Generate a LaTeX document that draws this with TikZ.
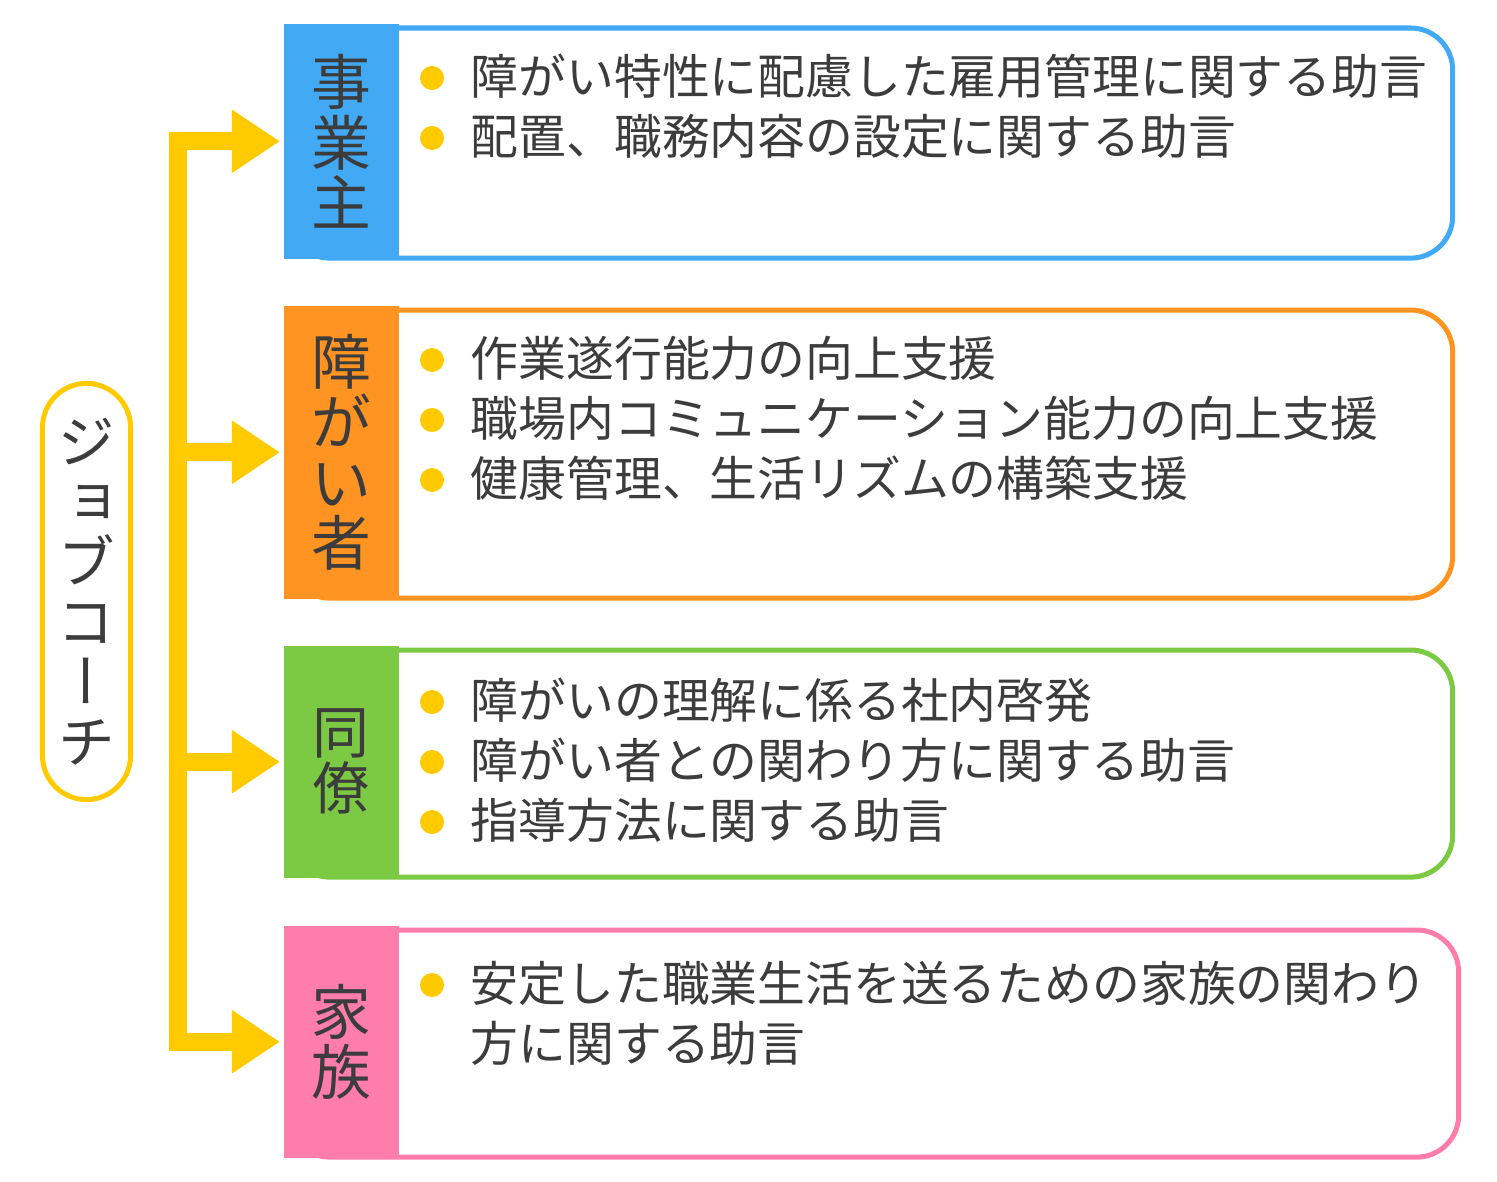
\documentclass[tikz,border=0pt]{standalone}
\usepackage{fontspec}
\usepackage{xcolor}
\usepackage{tikz}
\usetikzlibrary{arrows.meta}
\newfontfamily\jpfont{Noto Sans CJK JP}
\newfontfamily\jpvert[RawFeature=+vert]{Noto Sans CJK JP}
\definecolor{textgray}{HTML}{3C3C3C}
\definecolor{coachyellow}{HTML}{FFCB00}
\definecolor{ownerblue}{HTML}{42A9F5}
\definecolor{workerorange}{HTML}{FF9422}
\definecolor{mategreen}{HTML}{7CC943}
\definecolor{familypink}{HTML}{FF7DAB}

\begin{document}
\begin{tikzpicture}[x=0.01cm,y=-0.01cm,
  pane/.style={draw=#1,line width=0.05cm,rounded corners=0.42cm,fill=white,anchor=north west,inner sep=0pt},
  tab/.style={fill=#1,anchor=north west,minimum width=1.15cm,inner sep=0pt,text=textgray,align=center,font=\jpfont\fontsize{17}{17.07}\selectfont},
  item/.style={anchor=west,inner sep=0pt,text height=0.98em,text depth=0.02em,text=textgray,font=\jpfont\fontsize{13.6}{16}\selectfont},
  bulletdot/.style={circle,fill=coachyellow,minimum size=0.24cm,inner sep=0pt},
  feed/.style={draw=coachyellow,line width=0.18cm,-{Triangle[length=0.48cm,width=0.6cm]},shorten >=0.03cm}]
\useasboundingbox (0,0) rectangle (1497,1182);
%%\draw[step=100,color=gray!50,dotted] (0,0) grid (1497,1182);
\node[draw=coachyellow,line width=0.05cm,rounded corners=0.44cm,minimum width=0.88cm,minimum height=4.16cm,inner sep=0pt,
      align=center,text=textgray,font=\jpvert\fontsize{16.5}{17.07}\selectfont] (coach) at (86.5,591.5) {ジ\\ョ\\ブ\\コ\\ー\\チ};
\node[pane=ownerblue,minimum width=11.64cm,minimum height=2.30cm] (pane1) at (285.5,25.5) {};
\node[pane=workerorange,minimum width=11.64cm,minimum height=2.88cm] (pane2) at (285.5,307.5) {};
\node[pane=mategreen,minimum width=11.64cm,minimum height=2.27cm] (pane3) at (285.5,647.5) {};
\node[pane=familypink,minimum width=11.70cm,minimum height=2.27cm] (pane4) at (285.5,927.5) {};
\node[tab=ownerblue,minimum height=2.35cm] (tab1) at (283,23) {事\\業\\主};
\node[tab=workerorange,minimum height=2.93cm] (tab2) at (283,305) {障\\が\\い\\者};
\node[tab=mategreen,minimum height=2.32cm,font=\jpfont\fontsize{16.2}{14.2}\selectfont] (tab3) at (283,645) {同\\僚};
\node[tab=familypink,minimum height=2.32cm] (tab4) at (283,925) {家\\族};
%% spine and arrows
\coordinate (spine) at (178,0);
\draw[coachyellow,line width=0.18cm,line cap=rect] (tab1.west -| spine) -- (tab4.west -| spine);
\foreach \t in {tab1,tab2,tab3,tab4}
    \draw[feed] (\t.west -| spine) -- (\t.west);
%% bullet items
\foreach \y/\txt in {78/障がい特性に配慮した雇用管理に関する助言, 138/配置、職務内容の設定に関する助言,
    360/作業遂行能力の向上支援, 420/職場内コミュニケーション能力の向上支援, 480/健康管理、生活リズムの構築支援,
    702/障がいの理解に係る社内啓発, 762/障がい者との関わり方に関する助言, 822/指導方法に関する助言,
    985/安定した職業生活を送るための家族の関わり}
{
    \node[bulletdot] (b\y) at (432,\y) {};
    \node[item] (i\y) at (470,\y) {\txt};
}
\node[item] (i1045) at (470,1045) {方に関する助言};
\end{tikzpicture}
\end{document}
